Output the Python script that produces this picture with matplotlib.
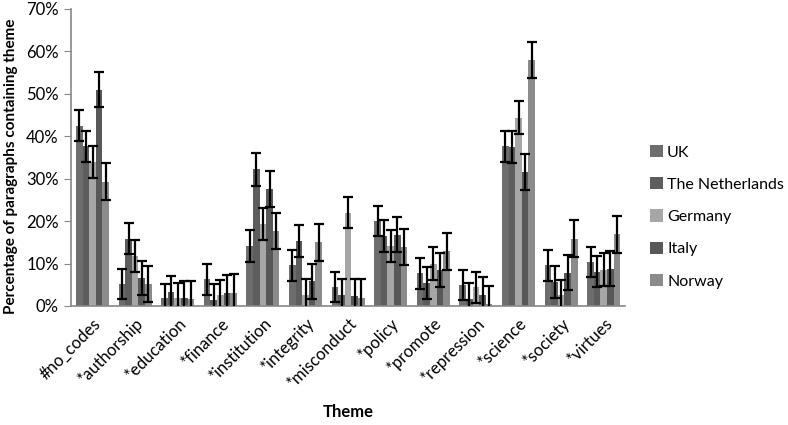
import numpy as np
import matplotlib
matplotlib.use("Agg")
import matplotlib.pyplot as plt
import matplotlib.transforms as mtransforms
from matplotlib.ticker import PercentFormatter

plt.rcParams['font.family'] = ['Lato', 'DejaVu Sans']

themes = ['#no_codes', '*authorship', '*education', '*finance', '*institution',
          '*integrity', '*misconduct', '*policy', '*promote', '*repression',
          '*science', '*society', '*virtues']
countries = ['UK', 'The Netherlands', 'Germany', 'Italy', 'Norway']

# percentage of paragraphs containing theme
uk = [42.5, 5.2, 1.8, 6.3, 14.1, 9.6, 4.5, 20.1, 7.7, 4.9, 37.6, 9.6, 10.4]
nl = [37.6, 15.9, 3.2, 1.4, 32.2, 15.3, 2.6, 16.5, 5.5, 1.7, 37.5, 5.7, 8.1]
de = [34.0, 11.8, 1.8, 2.6, 19.3, 2.6, 22.0, 14.1, 10.0, 4.4, 44.4, 2.6, 8.6]
it = [51.0, 6.7, 1.8, 3.1, 27.6, 5.8, 2.4, 16.8, 8.5, 2.6, 31.5, 7.8, 8.8]
no = [29.3, 5.2, 1.6, 3.1, 17.7, 15.0, 2.0, 13.9, 12.9, 0.5, 58.0, 15.9, 16.9]

# error bar half-widths
uk_err = [3.6, 3.6, 3.5, 3.6, 3.8, 3.7, 3.6, 3.5, 3.7, 3.5, 3.6, 3.7, 3.5]
nl_err = [3.6, 3.7, 3.9, 3.8, 3.9, 3.8, 3.7, 3.8, 3.8, 3.8, 3.7, 3.8, 3.7]
de_err = [3.8, 3.7, 3.7, 3.5, 3.7, 3.7, 3.7, 3.7, 3.9, 3.6, 3.8, 3.5, 3.9]
it_err = [4.1, 4.0, 4.2, 4.1, 4.2, 4.1, 4.0, 4.1, 4.1, 4.2, 4.2, 4.1, 4.1]
no_err = [4.3, 4.3, 4.4, 4.4, 4.3, 4.3, 4.3, 4.3, 4.3, 4.3, 4.3, 4.4, 4.4]

values = [uk, nl, de, it, no]
errors = [uk_err, nl_err, de_err, it_err, no_err]
colors = ['#6d6d6d', '#5d5d5d', '#a6a6a6', '#585858', '#8b8b8b']

fig = plt.figure(figsize=(7.88, 4.25), dpi=100)
ax = fig.add_axes([0.0904, 0.28, 0.7028, 0.699])

x = np.arange(len(themes))
w = 0.155
for k, (vals, errs, col, name) in enumerate(zip(values, errors, colors, countries)):
    pos = x + (k - 2) * w
    ax.bar(pos, vals, width=w, color=col, label=name, zorder=2)
    ax.errorbar(pos, vals, yerr=errs, fmt='none', ecolor='black',
                elinewidth=1.6, capsize=3.5, capthick=1.6, zorder=3)

ax.set_xlim(-0.5, len(themes) - 0.5)
ax.set_ylim(0, 70)
ax.set_yticks(np.arange(0, 71, 10))
ax.yaxis.set_major_formatter(PercentFormatter(xmax=100, decimals=0))
ax.set_xticks(x)
ax.set_xticklabels(themes, rotation=45, ha='right', rotation_mode='anchor', fontsize=12)
# excel puts the end of the rotated label a bit right of the category centre
shift = mtransforms.ScaledTranslation(16 / 100, 0, fig.dpi_scale_trans)
for lbl in ax.get_xticklabels():
    lbl.set_transform(lbl.get_transform() + shift)
ax.tick_params(axis='x', length=0, pad=7)
ax.tick_params(axis='y', labelsize=12, length=5, color='#888888', pad=4)

for s in ['top', 'right']:
    ax.spines[s].set_visible(False)
for s in ['left', 'bottom']:
    ax.spines[s].set_color('#888888')
    ax.spines[s].set_linewidth(1.2)

ax.set_ylabel('Percentage of paragraphs containing theme', fontsize=11,
              fontweight='bold')
ax.yaxis.set_label_coords(-0.096, 0.47)
ax.set_xlabel('Theme', fontsize=12, fontweight='bold', labelpad=9)

leg = ax.legend(loc='center left', bbox_to_anchor=(0.807, 0.49),
                bbox_transform=fig.transFigure, frameon=False, fontsize=11.5,
                handlelength=0.8, handleheight=0.8, handletextpad=0.25,
                labelspacing=1.1)

fig.savefig('out.png', dpi=100)
